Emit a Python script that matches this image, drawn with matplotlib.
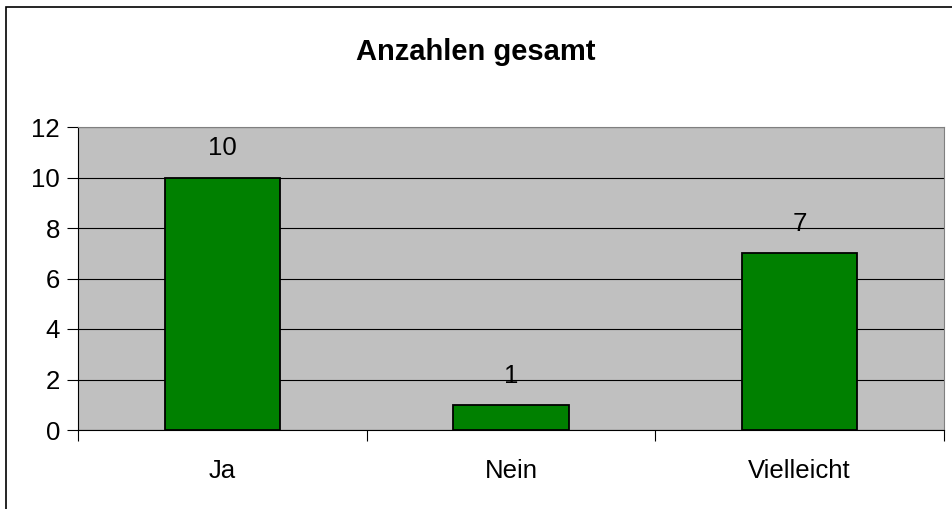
import matplotlib.pyplot as plt
from matplotlib.patches import Rectangle

categories = ["Ja", "Nein", "Vielleicht"]
values = [10, 1, 7]
y_ticks = [0, 2, 4, 6, 8, 10, 12]

W, H = 952, 509
fig = plt.figure(figsize=(W / 100, H / 100), dpi=100)
plt.rcParams['font.family'] = ['Liberation Sans', 'DejaVu Sans']

# outer frame (cut off at right and bottom as in the original)
fig.patches.append(Rectangle((6 / W, -0.1), 1.2, (H - 7) / H + 0.1,
                             transform=fig.transFigure, fill=False,
                             edgecolor='black', linewidth=1.2))

left, right, top, bottom = 78, 944, 127, 430
ax = fig.add_axes([left / W, 1 - bottom / H, (right - left) / W, (bottom - top) / H])
ax.set_facecolor('#c0c0c0')

x = range(len(categories))
ax.bar(x, values, width=0.40, color='#008000', edgecolor='black', linewidth=1.3, zorder=3)
for xi, v in zip(x, values):
    ax.text(xi, v + 1.15, str(v), ha='center', va='center', fontsize=18.5)

ax.set_xlim(-0.5, len(categories) - 0.5)
ax.set_ylim(0, 12)
ax.set_yticks(y_ticks)
ax.set_yticklabels([str(t) for t in y_ticks], fontsize=18.5)
ax.yaxis.grid(True, color='black', linewidth=0.8, zorder=1)
ax.set_axisbelow(True)
ax.tick_params(axis='y', length=8, width=0.8, pad=5)

ax.set_xticks([i - 0.5 for i in range(len(categories) + 1)], minor=False)
ax.set_xticklabels([])
ax.set_xticks(list(x), minor=True)
ax.set_xticklabels(categories, minor=True, fontsize=18.5)
ax.tick_params(axis='x', which='major', length=8, width=0.8, direction='out')
ax.tick_params(axis='x', which='minor', length=0, pad=21)

for side in ['top', 'right']:
    ax.spines[side].set_color('#808080')
ax.spines['left'].set_color('black')
ax.spines['bottom'].set_color('black')

fig.text(476 / W, 1 - 52 / H, "Anzahlen gesamt", ha='center', va='center',
         fontsize=21, fontweight='bold')

fig.savefig("out.png", dpi=100)
